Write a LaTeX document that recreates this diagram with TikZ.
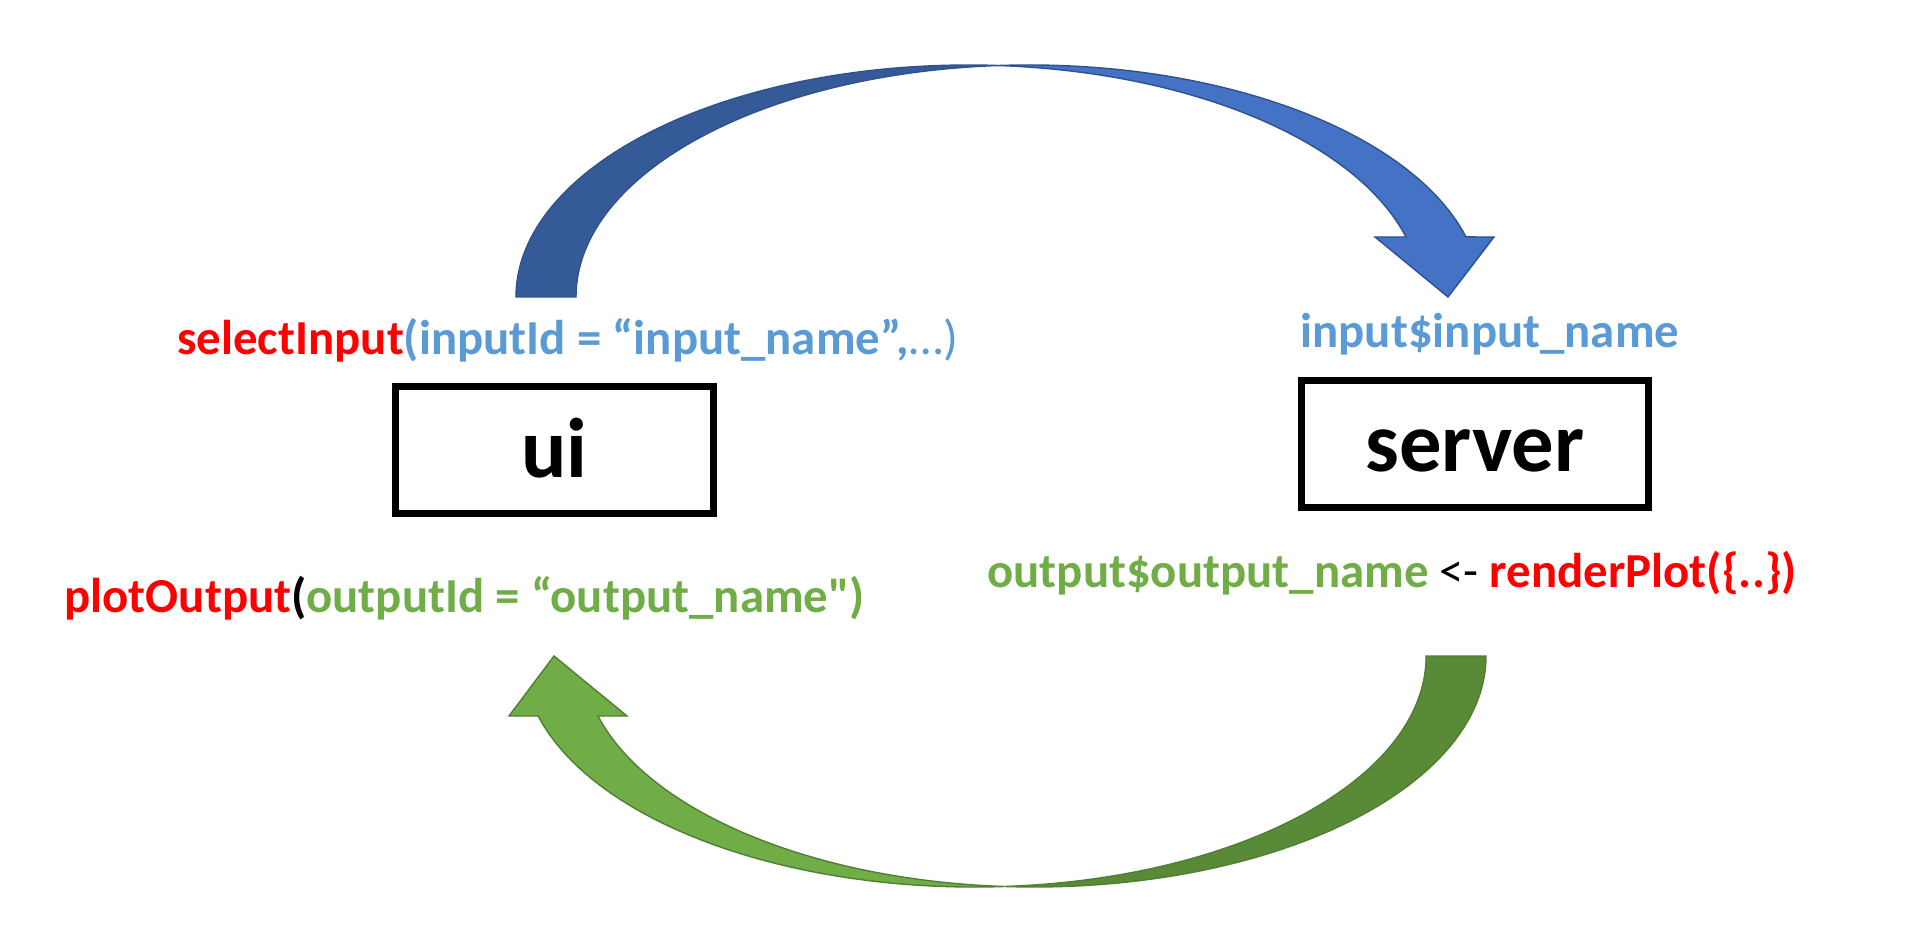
\documentclass[tikz,border=0pt]{standalone}
\usepackage{fontspec}
\setmainfont{Carlito}
\newfontfamily\rawfont{Carlito}
\usetikzlibrary{positioning}

\definecolor{codered}{HTML}{FF0000}
\definecolor{codeblue}{HTML}{5B9BD5}
\definecolor{codegreen}{HTML}{70AD47}
\definecolor{bluedark}{HTML}{355A98}
\definecolor{bluelight}{HTML}{4472C4}
\definecolor{blueline}{HTML}{2F528F}
\definecolor{greendark}{HTML}{588A37}
\definecolor{greenlight}{HTML}{70AD47}
\definecolor{greenline}{HTML}{507E32}

\begin{document}
\begin{tikzpicture}[x=0.02cm,y=-0.02cm,
  block/.style={draw, line width=3.7pt, minimum height=2.55cm, inner sep=0pt,
    text height=1.12cm, text depth=0pt, font=\bfseries\fontsize{48.2}{58}\selectfont},
  code/.style={inner sep=0pt, anchor=base west, font=\bfseries\fontsize{27.8}{33}\selectfont},
  sendband/.style={draw=blueline, line width=0.8pt},
  backband/.style={draw=greenline, line width=0.8pt}]
\useasboundingbox (0,0) rectangle (1914,949);

\node[block, minimum width=6.37cm] (ui) at (554.5,450) {ui};
\node[block, minimum width=6.95cm] (server) at (1475,444) {server};

\node[code] (select) at (177,355) {\textcolor{codered}{selectInput}\textcolor{codeblue}{(inputId = “input\_name”,{\mdseries …)}}};
\node[code] (input) at (1300,348) {\textcolor{codeblue}{input\$input\_name}};
\node[code] (output) at (987,587) {\textcolor{codegreen}{output\$output\_name} {\mdseries <-} \textcolor{codered}{renderPlot(\{..\})}};
\node[code] (plot) at (64,612) {\textcolor{codered}{plotOutput}(\textcolor{codegreen}{outputId = “output\_name{\rawfont "})}};

\coordinate (sendtail) at (516,297);
\coordinate (sendtop) at (998.7,65.5);
\coordinate (backtail) at (1486,656);
\coordinate (backbottom) at (1004.3,886.5);

\filldraw[sendband, fill=bluedark] (sendtail)
  arc[start angle=180, end angle=273.8, x radius=452.7, y radius=232]
  arc[start angle=266.2, end angle=180, x radius=452.7, y radius=232] -- cycle;
\filldraw[sendband, fill=bluelight] (sendtop)
  arc[start angle=266.2, end angle=345, x radius=452.7, y radius=232]
  -- (1494,237) -- (1448,297) -- (1375,237) -- (1406,237)
  arc[start angle=345, end angle=273.8, x radius=452.7, y radius=232] -- cycle;

\filldraw[backband, fill=greendark] (backtail)
  arc[start angle=0, end angle=93.8, x radius=451.7, y radius=231]
  arc[start angle=86.2, end angle=0, x radius=451.7, y radius=231] -- cycle;
\filldraw[backband, fill=greenlight] (backbottom)
  arc[start angle=86.2, end angle=164.95, x radius=451.7, y radius=231]
  -- (509,716) -- (554,656) -- (627,716) -- (598,716)
  arc[start angle=164.95, end angle=93.8, x radius=451.7, y radius=231] -- cycle;
\end{tikzpicture}
\end{document}
